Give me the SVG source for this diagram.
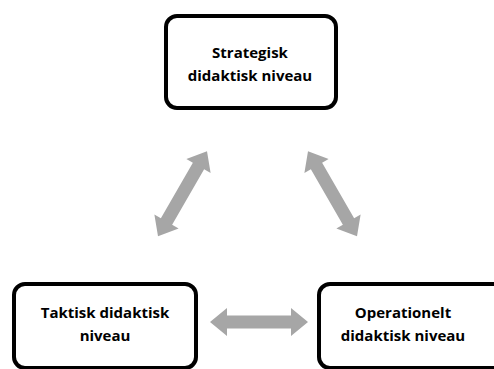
<svg xmlns="http://www.w3.org/2000/svg" width="494" height="369" viewBox="0 0 494 369">
<defs>
<style>
.box{fill:#fff;stroke:#000;stroke-width:4}
.lbl{font-family:"Open Sans","Liberation Sans",sans-serif;font-weight:bold;font-size:15px;fill:#000;text-anchor:middle}
.arr{fill:#a6a6a6}
</style>
<path id="dblarrow" d="M-49,0 L-32,-14 L-32,-6.5 L32,-6.5 L32,-14 L49,0 L32,14 L32,6.5 L-32,6.5 L-32,14 Z"/>
</defs>
<rect width="494" height="369" fill="#fff"/>
<g id="connectors" class="arr">
<use href="#dblarrow" transform="translate(182.5,193.7) rotate(-60)"/>
<use href="#dblarrow" transform="translate(332.5,193.7) rotate(60)"/>
<use href="#dblarrow" transform="translate(259,322)"/>
</g>
<g id="strategisk">
<rect class="box" x="166" y="16" width="170" height="92" rx="11"/>
<text class="lbl" x="250" y="58">Strategisk</text>
<text class="lbl" x="250" y="81">didaktisk niveau</text>
</g>
<g id="taktisk">
<rect class="box" x="14" y="284" width="182" height="84" rx="11"/>
<text class="lbl" x="105" y="318">Taktisk didaktisk</text>
<text class="lbl" x="105" y="341">niveau</text>
</g>
<g id="operationelt">
<rect class="box" x="319" y="284" width="190" height="84" rx="11"/>
<text class="lbl" x="403" y="318">Operationelt</text>
<text class="lbl" x="403" y="341">didaktisk niveau</text>
</g>
</svg>
